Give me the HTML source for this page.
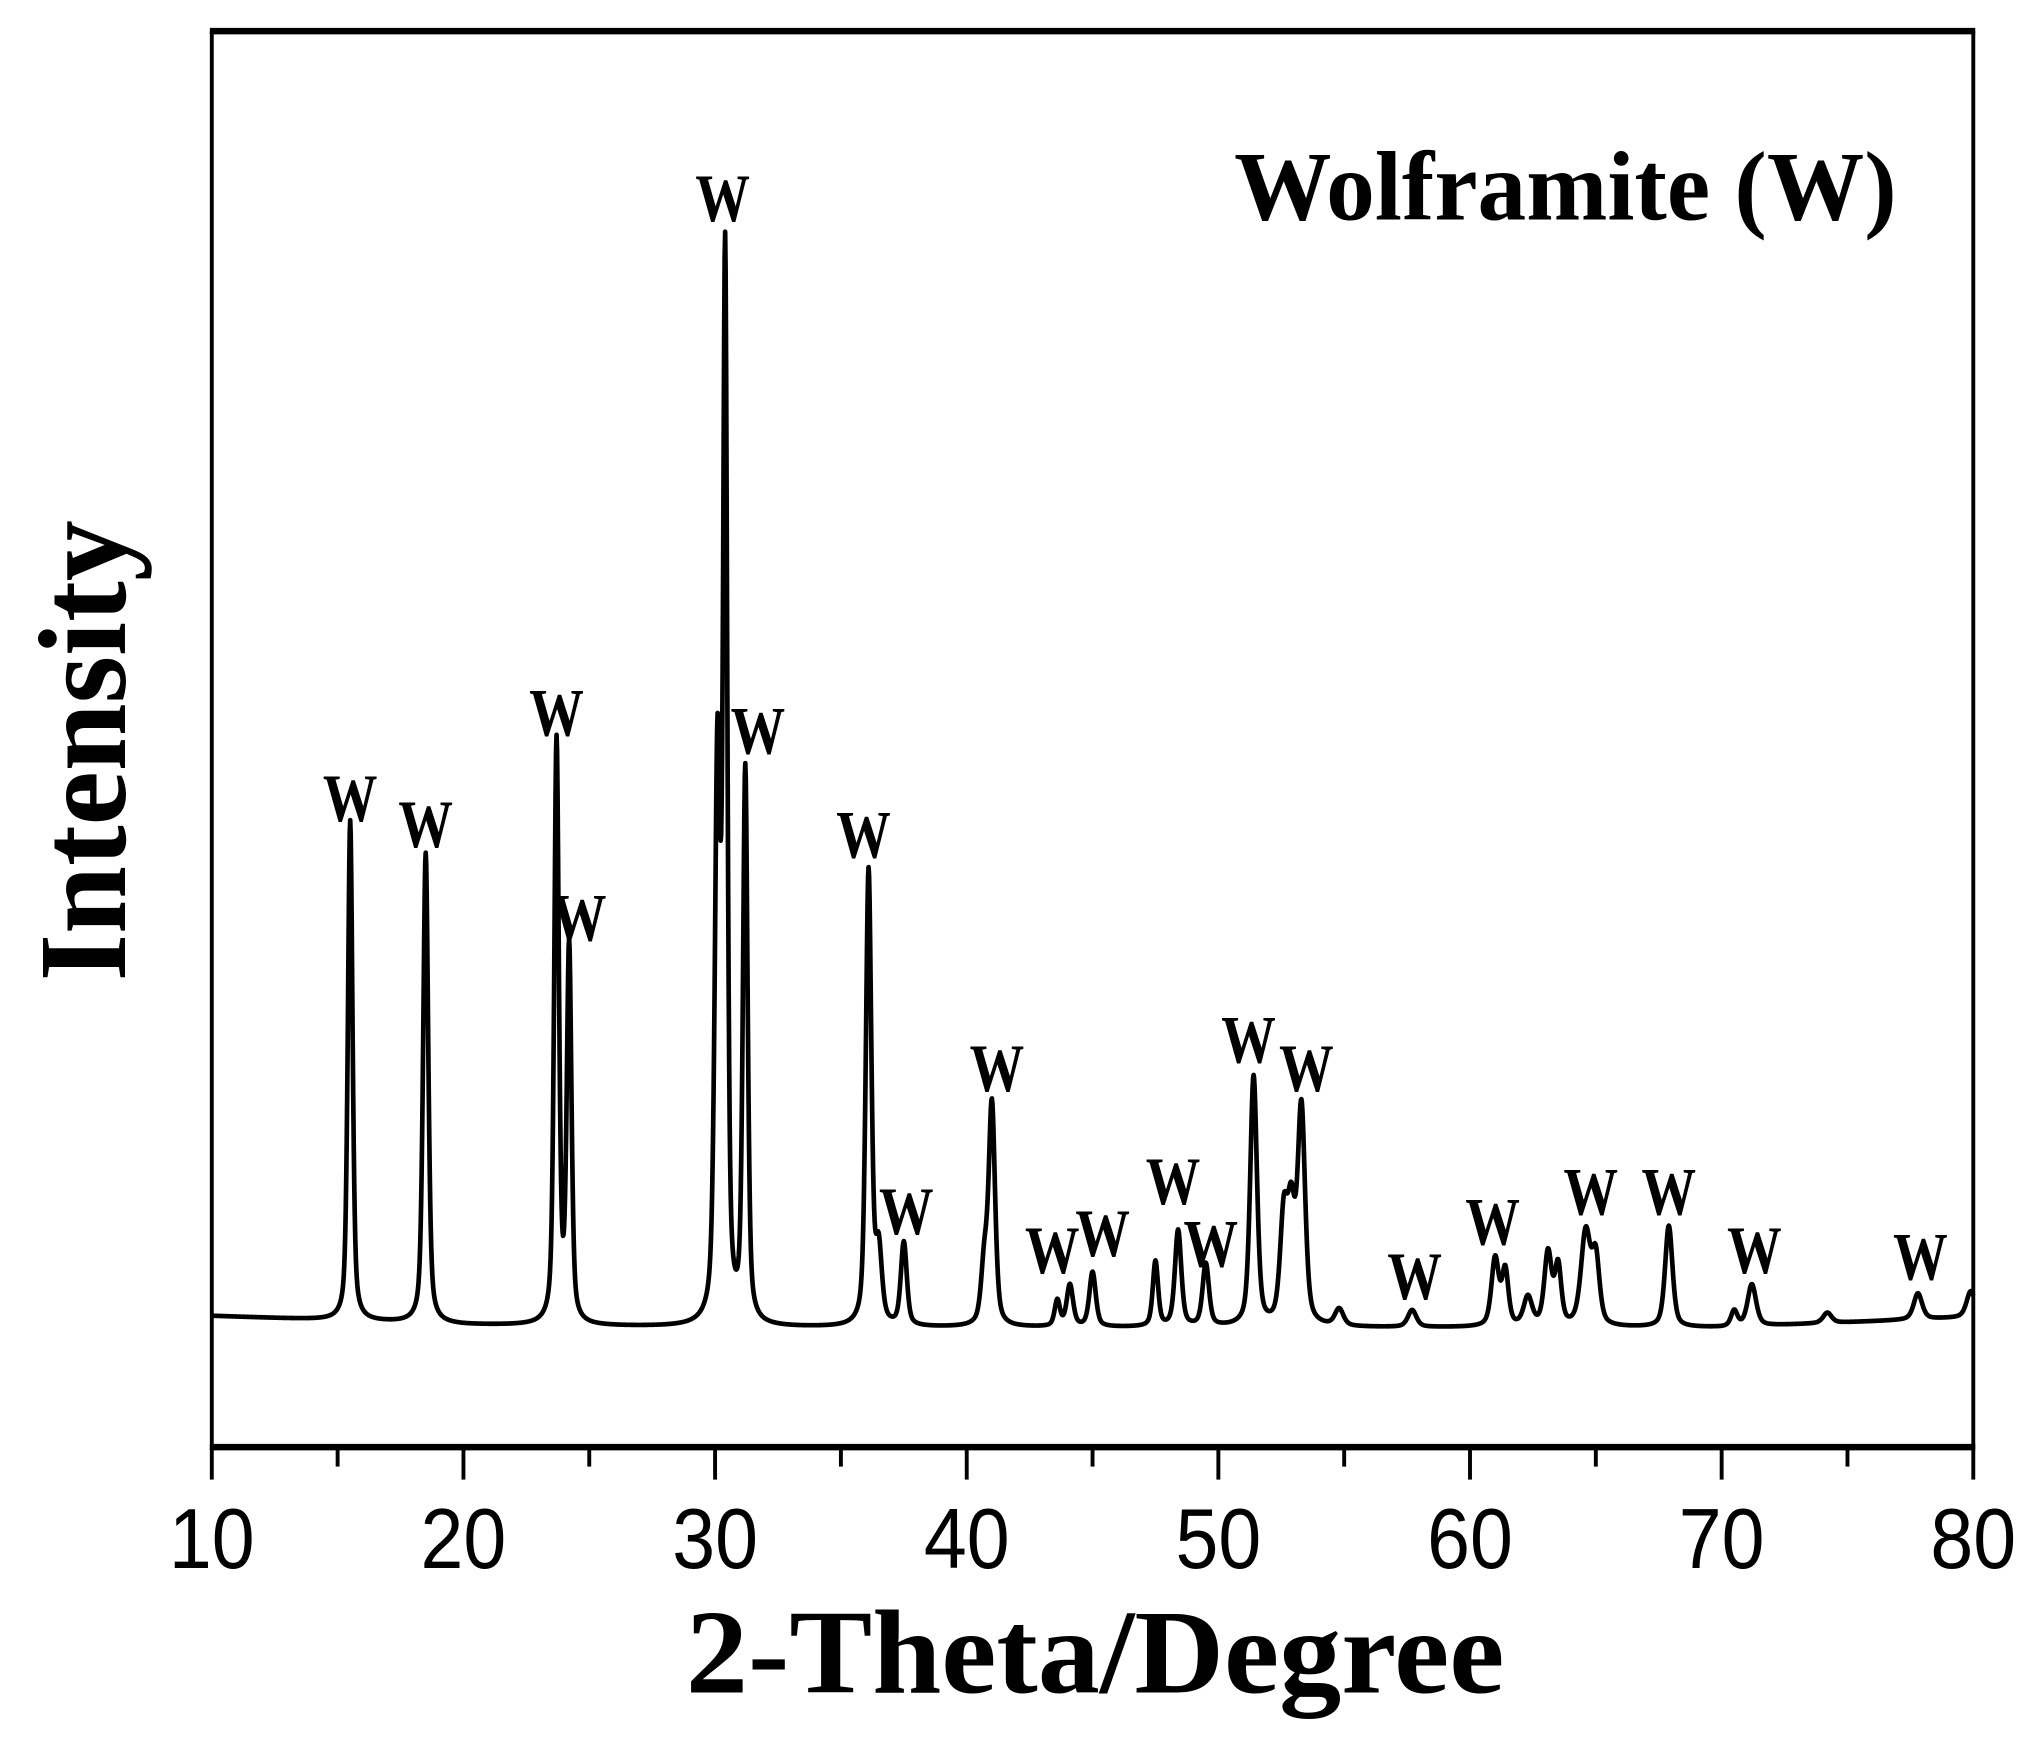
<!DOCTYPE html>
<html><head><meta charset="utf-8"><style>
html,body{margin:0;padding:0;background:#fff;}
svg{display:block;}
</style></head><body>
<svg id="chart" width="2037" height="1742" viewBox="0 0 1568 1341" xmlns="http://www.w3.org/2000/svg">
<rect x="0" y="0" width="1568" height="1341" fill="#fff"/>
<g id="plot"></g>
<g id="axes"></g>
<text x="1205" y="169" font-family="Liberation Serif, serif" font-weight="bold" font-size="76" textLength="510" lengthAdjust="spacingAndGlyphs" text-anchor="middle">Wolframite (W)</text>
<text x="843" y="1303" font-family="Liberation Serif, serif" font-weight="bold" font-size="92" textLength="630" lengthAdjust="spacingAndGlyphs" text-anchor="middle">2-Theta/Degree</text>
<text transform="translate(96,578) rotate(-90)" font-family="Liberation Serif, serif" font-weight="bold" font-size="96" textLength="355" lengthAdjust="spacingAndGlyphs" text-anchor="middle">Intensity</text>
</svg>
<script>
const baseTheta = [10, 20, 30, 40, 50, 60, 70, 80];
const baseI = [101, 94, 92, 92, 92, 92, 92, 100];
const peakTheta = [15.5, 18.5, 23.7, 24.2, 30.1, 30.4, 31.2, 36.1, 36.5, 37.5, 40.7, 41.0, 43.6, 44.1, 45.0, 47.5, 48.4, 49.5, 51.4, 52.6, 52.9, 53.3, 54.8, 57.7, 61.0, 61.4, 62.3, 63.1, 63.5, 64.6, 65.0, 67.9, 70.5, 71.2, 74.2, 77.8, 79.9];
const peakI = [385, 362, 448, 288, 430, 800, 425, 350, 55, 64, 45, 170, 20, 32, 42, 50, 74, 48, 192, 80, 80, 165, 13, 13, 52, 42, 22, 56, 45, 72, 50, 78, 12, 32, 8, 20, 20];
const peakW = [0.22, 0.24, 0.22, 0.22, 0.26, 0.2, 0.22, 0.26, 0.3, 0.28, 0.3, 0.3, 0.25, 0.3, 0.3, 0.25, 0.3, 0.3, 0.32, 0.35, 0.35, 0.35, 0.4, 0.4, 0.35, 0.3, 0.4, 0.35, 0.3, 0.45, 0.35, 0.35, 0.3, 0.4, 0.4, 0.4, 0.4];
const labelTheta = [15.5, 18.5, 23.7, 24.6, 30.3, 31.7, 35.9, 37.6, 41.2, 43.4, 45.4, 48.2, 49.7, 51.2, 53.5, 57.8, 60.9, 64.8, 67.9, 71.3, 77.9];
const labelI = [482, 462, 548, 390, 944, 534, 454, 164, 274, 134, 147, 187, 139, 296, 274, 114, 156, 179, 179, 134, 129];
const xTicks = [10, 20, 30, 40, 50, 60, 70, 80];
const xTickLabels = ["10", "20", "30", "40", "50", "60", "70", "80"];

const L = 163, R = 1519, T = 24, B = 1114;
const xMin = 10, xMax = 80;
const X = t => L + (t - xMin) / (xMax - xMin) * (R - L);
const Y = v => B - v;
const NS = "http://www.w3.org/2000/svg";
const plot = document.getElementById('plot');
const axes = document.getElementById('axes');

function baseline(t) {
  for (let i = 0; i < baseTheta.length - 1; i++) {
    if (t <= baseTheta[i + 1]) {
      const f = (t - baseTheta[i]) / (baseTheta[i + 1] - baseTheta[i]);
      return baseI[i] + f * (baseI[i + 1] - baseI[i]);
    }
  }
  return baseI[baseI.length - 1];
}
function intensity(t) {
  let v = baseline(t);
  for (let k = 0; k < peakTheta.length; k++) {
    const d = (t - peakTheta[k]) / (peakW[k] / 2);
    const g = Math.exp(-Math.LN2 * d * d);
    const l = 1 / (1 + d * d);
    v += peakI[k] * (0.5 * g + 0.5 * l);
  }
  return v;
}
let d = '';
for (let t = xMin; t <= xMax + 1e-9; t += 0.02) {
  d += (d ? 'L' : 'M') + X(t).toFixed(2) + ' ' + Y(intensity(t)).toFixed(2);
}
const path = document.createElementNS(NS, 'path');
path.setAttribute('d', d);
path.setAttribute('fill', 'none');
path.setAttribute('stroke', '#000');
path.setAttribute('stroke-width', '3.6');
path.setAttribute('stroke-linejoin', 'round');


plot.appendChild(path);

labelTheta.forEach((t, i) => {
  const tx = document.createElementNS(NS, 'text');
  tx.setAttribute('x', X(t));
  tx.setAttribute('y', Y(labelI[i]));
  tx.setAttribute('text-anchor', 'middle');
  tx.setAttribute('font-family', 'Liberation Serif, serif');
  tx.setAttribute('font-weight', 'bold');
  tx.setAttribute('font-size', '52');
  tx.setAttribute('textLength', '42');
  tx.setAttribute('lengthAdjust', 'spacingAndGlyphs');
  tx.textContent = 'W';
  
  
  plot.appendChild(tx);
});

function line(x1, y1, x2, y2, w, name) {
  const l = document.createElementNS(NS, 'line');
  l.setAttribute('x1', x1); l.setAttribute('y1', y1);
  l.setAttribute('x2', x2); l.setAttribute('y2', y2);
  l.setAttribute('stroke', '#000'); l.setAttribute('stroke-width', w);
  
  
  axes.appendChild(l);
}
line(L - 1.5, T, R + 1.5, T, 5, 'top-axis');
line(L - 1.5, B, R + 1.5, B, 5, 'x-axis');
line(L, T, L, B, 3, 'left-axis');
line(R, T, R, B, 3, 'right-axis');
xTicks.forEach((t, i) => {
  line(X(t), B, X(t), B + 25, 3, 'x-major-tick');
  if (i < xTicks.length - 1) line(X(t + 5), B, X(t + 5), B + 15, 3, 'x-minor-tick');
  const tx = document.createElementNS(NS, 'text');
  tx.setAttribute('x', X(t));
  tx.setAttribute('y', 1207);
  tx.setAttribute('text-anchor', 'middle');
  tx.setAttribute('font-family', 'Liberation Sans, sans-serif');
  tx.setAttribute('font-size', '66');
  tx.setAttribute('textLength', '66');
  tx.setAttribute('lengthAdjust', 'spacingAndGlyphs');
  tx.textContent = xTickLabels[i];
  
  
  axes.appendChild(tx);
});
</script>
</body></html>
